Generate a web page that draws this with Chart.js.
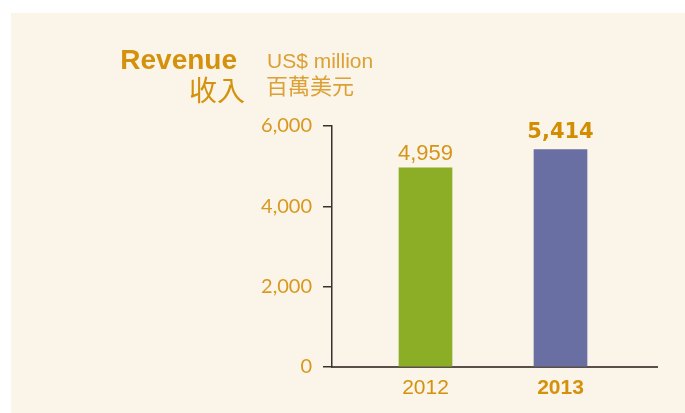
<!DOCTYPE html>
<html>
<head>
<meta charset="utf-8">
<script src="https://cdn.jsdelivr.net/npm/chart.js@4/dist/chart.umd.min.js"></script>
<style>
  html, body { margin: 0; padding: 0; background: #ffffff; }
  #wrap { width: 685px; height: 413px; position: relative; }
</style>
</head>
<body>
<div id="wrap"><canvas id="c" width="685" height="413"></canvas></div>
<script>
const years = [2012, 2013];
const revenue = [4959, 5414];
const valueLabels = ['4,959', '5,414'];
const yTicks = [0, 2000, 4000, 6000];
const barColors = ['#8bae26', '#696ea3'];

const GOLD = '#d4910c';
const LIGHT_GOLD = '#dca035';

const bgPlugin = {
  id: 'bg',
  beforeDraw(chart) {
    const ctx = chart.ctx;
    ctx.save();
    ctx.fillStyle = '#ffffff';
    ctx.fillRect(0, 0, chart.width, chart.height);
    ctx.fillStyle = '#fbf4e9';
    ctx.fillRect(11, 13, chart.width - 11, chart.height - 13);
    ctx.restore();
  },
  afterDraw(chart) {
    const ctx = chart.ctx;
    ctx.save();
    ctx.fillStyle = GOLD;
    ctx.textAlign = 'right';
    ctx.textBaseline = 'alphabetic';
    ctx.font = 'bold 28px "Liberation Sans", Arial, sans-serif';
    ctx.fillText('Revenue', 237, 69);
    ctx.font = '28px "Noto Sans CJK TC", "Noto Sans CJK SC", sans-serif';
    ctx.textBaseline = 'middle';
    ctx.fillText('收入', 245, 90);
    ctx.fillStyle = LIGHT_GOLD;
    ctx.textAlign = 'left';
    ctx.textBaseline = 'alphabetic';
    ctx.font = '21px "Liberation Sans", Arial, sans-serif';
    ctx.fillText('US$ million', 267, 68);
    ctx.font = '22px "Noto Sans CJK TC", "Noto Sans CJK SC", sans-serif';
    ctx.textBaseline = 'middle';
    ctx.fillText('百萬美元', 266, 86);

    const meta = chart.getDatasetMeta(0);
    meta.data.forEach((bar, i) => {
      ctx.textAlign = 'center';
      ctx.textBaseline = 'alphabetic';
      if (i === 1) {
        ctx.font = 'bold 21px "DejaVu Sans", sans-serif';
        ctx.fillStyle = '#d28d00';
        ctx.fillText(valueLabels[i], bar.x, bar.y - 12);
      } else {
        ctx.font = '22px "Liberation Sans", Arial, sans-serif';
        ctx.fillStyle = '#d6951a';
        ctx.fillText(valueLabels[i], bar.x, bar.y - 8);
      }
    });
    ctx.restore();
  }
};

const pxPerYear = 135;
const xMin = years[0] - 93.5 / pxPerYear;
const xMax = xMin + 325 / pxPerYear;

new Chart(document.getElementById('c'), {
  type: 'bar',
  data: {
    datasets: [{
      data: years.map((y, i) => ({ x: y, y: revenue[i] })),
      backgroundColor: barColors,
      borderWidth: 0,
      barThickness: 53
    }]
  },
  plugins: [bgPlugin],
  options: {
    responsive: false,
    animation: false,
    devicePixelRatio: 1,
    layout: { padding: { top: 126, right: 28, bottom: 0, left: 0 } },
    plugins: { legend: { display: false }, tooltip: { enabled: false }, title: { display: false } },
    scales: {
      x: {
        type: 'linear',
        offset: false,
        min: xMin,
        max: xMax,
        afterBuildTicks(scale) { scale.ticks = years.map(v => ({ value: v })); },
        afterFit(scale) { scale.height = 46; },
        grid: { display: true, offset: false, drawOnChartArea: false, drawTicks: false },
        border: { display: true, color: '#5b5049', width: 2 },
        ticks: {
          padding: 9,
          color: GOLD,
          callback: v => String(v),
          font: ctx => ({ family: '"Liberation Sans", Arial, sans-serif', size: 21, weight: ctx.index === 1 ? 'bold' : 'normal' })
        }
      },
      y: {
        min: 0,
        max: 6000,
        afterBuildTicks(scale) { scale.ticks = yTicks.map(v => ({ value: v })); },
        afterFit(scale) { scale.width = 332; },
        grid: { display: true, drawOnChartArea: false, drawTicks: true, tickLength: 9, color: '#3a302c', lineWidth: 1.5 },
        border: { display: true, color: '#3a302c', width: 1.5 },
        ticks: {
          padding: 11,
          color: '#d9981f',
          font: { family: 'Lato, "Open Sans", sans-serif', size: 20, weight: 'normal' },
          callback: v => v.toLocaleString('en-US')
        }
      }
    }
  }
});
</script>
</body>
</html>
